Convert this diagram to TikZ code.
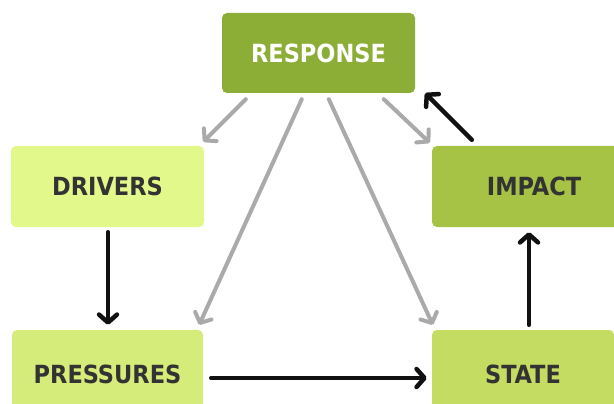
\documentclass[tikz,border=0pt]{standalone}
\usepackage{fontspec}
\setmainfont{DejaVu Sans}
\newfontfamily\boxfont{DejaVu Sans Condensed}
\usetikzlibrary{arrows.meta,calc}
\definecolor{cresp}{HTML}{8CAE37}
\definecolor{cdrv}{HTML}{E3F88B}
\definecolor{cimp}{HTML}{A6C346}
\definecolor{cpres}{HTML}{D6EC7A}
\definecolor{cstate}{HTML}{C5DC62}
\definecolor{textdark}{HTML}{333333}
\definecolor{arrowgray}{HTML}{AAAAAA}
\definecolor{arrowblack}{HTML}{111111}
\begin{document}
\begin{tikzpicture}[x=1pt,y=-1pt,
  box/.style={rectangle, rounded corners=5pt, inner sep=0pt,
    font=\boxfont\fontsize{25}{30}\selectfont\bfseries, text=textdark},
  garrow/.style={draw=arrowgray, line width=4pt, line cap=round, line join=round,
    -{Straight Barb[length=8pt,width=18pt,round]}},
  barrow/.style={draw=arrowblack, line width=4.5pt, line cap=round, line join=round,
    -{Straight Barb[length=8pt,width=18pt,round]}}]
\useasboundingbox (0,0) rectangle (614,404);
\clip (0,0) rectangle (614,404);
\fill[white] (0,0) rectangle (614,404);
\node[box, fill=cresp, text=white, minimum width=193pt, minimum height=80pt] (resp) at (318.5,53) {RESPONSE};
\node[box, fill=cdrv, minimum width=193pt, minimum height=81pt] (drv) at (107.5,186.5) {DRIVERS};
\node[box, fill=cimp, minimum width=204pt, minimum height=81pt] (imp) at (534,186.5) {IMPACT};
\node[box, fill=cpres, minimum width=191pt, minimum height=88pt] (pres) at (107.5,374) {PRESSURES};
\node[box, fill=cstate, minimum width=182pt, minimum height=88pt] (state) at (523,374) {STATE};
% grey arrows from RESPONSE
\draw[garrow] ($(resp.south west)+(24,6)$) -- ($(drv.north east)+(-1,-4)$);
\draw[garrow] ($(resp.south west)+(80,6)$) -- ($(pres.north east)+(-4,-5)$);
\draw[garrow] ($(resp.south west)+(107,6)$) -- ($(state.north west)+(1,-5)$);
\draw[garrow] ($(resp.south west)+(162,6)$) -- ($(imp.north west)+(-2,-3)$);
% black arrows
\draw[barrow] ($(imp.north west)+(40,-6)$) -- ($(resp.south east)+(10,0)$);
\draw[barrow] ($(drv.south)+(0.5,5)$) -- ($(pres.north)+(0.5,-5)$);
\draw[barrow] ($(pres.east)+(8,4)$) -- ($(state.west)+(-5,4)$);
\draw[barrow] ($(state.north)+(6,-5)$) -- ($(imp.south)+(-5,5)$);
\end{tikzpicture}
\end{document}
